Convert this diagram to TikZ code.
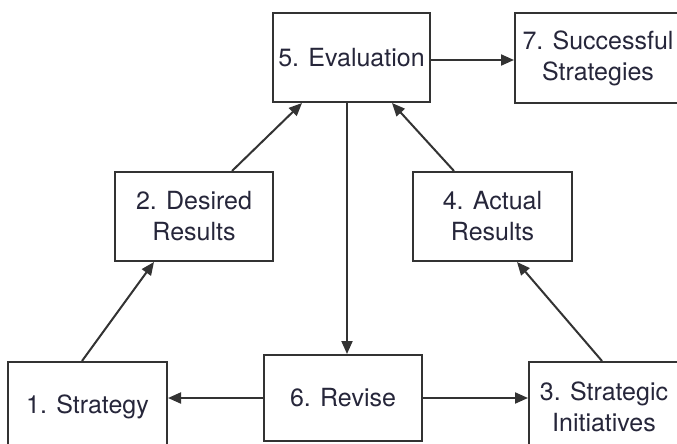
\documentclass[tikz,border=0pt]{standalone}
\usepackage{fontspec}
\setmainfont{TeX Gyre Heros}
\usetikzlibrary{arrows.meta,calc}
\definecolor{linec}{HTML}{333333}
\definecolor{textc}{HTML}{26263A}
\begin{document}
\begin{tikzpicture}[x=1pt,y=-1pt,
  box/.style={draw=linec, line width=2pt, fill=white, inner sep=0pt, align=center,
    font=\fontsize{25}{31}\selectfont, text=textc},
  conn/.style={draw=linec, line width=2pt, -{Triangle[length=13pt,width=11pt]}}]
\useasboundingbox (0,0) rectangle (677,444);
\clip (0,0) rectangle (677,444);
\fill[white] (0,0) rectangle (677,444);
\node[box, minimum width=157pt, minimum height=89pt] (b5) at (351.5,57.5) {5. Evaluation};
\node[box, minimum width=166pt, minimum height=90pt] (b7) at (598,58) {7. Successful\\Strategies};
\node[box, minimum width=158pt, minimum height=89pt] (b2) at (194,216.5) {2. Desired\\Results};
\node[box, minimum width=159pt, minimum height=89pt] (b4) at (492.5,216.5) {4. Actual\\Results};
\node[box, minimum width=159pt, minimum height=90pt] (b1) at (87.5,407) {1. Strategy};
\node[box, minimum width=158pt, minimum height=86pt] (b6) at (343,398) {6. Revise};
\node[box, minimum width=150pt, minimum height=90pt] (b3) at (604,407) {3. Strategic\\Initiatives};
% connector ends
\coordinate (v1) at ($(b5.south)+(-4.5,0)$);
\coordinate (v2) at (v1 |- b6.north);
\coordinate (h1) at ($(b5.east)+(0,2.5)$);
% connectors
\draw[conn] (h1) -- (h1 -| b7.west);
\draw[conn] (v1) -- (v2);
\draw[conn] (b6.west) -- (b6.west -| b1.east);
\draw[conn] (b6.east) -- (b6.east -| b3.west);
\draw[conn] ($(b1.north west)+(75,0)$) -- ($(b2.south west)+(40,0)$);
\draw[conn] ($(b2.north west)+(118,0)$) -- ($(b5.south west)+(30,0)$);
\draw[conn] ($(b3.north west)+(74,0)$) -- ($(b4.south west)+(105,0)$);
\draw[conn] ($(b4.north west)+(42,0)$) -- ($(b5.south west)+(120,0)$);
\end{tikzpicture}
\end{document}
